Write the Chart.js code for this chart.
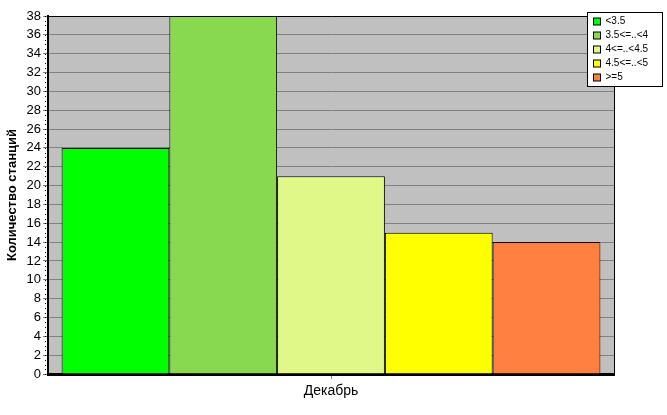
<!DOCTYPE html>
<html>
<head>
<meta charset="utf-8">
<script src="https://cdn.jsdelivr.net/npm/chart.js@4"></script>
<style>
  html, body { margin: 0; padding: 0; background: #fff; }
  #wrap { width: 667px; height: 415px; }
</style>
</head>
<body>
<div id="wrap"><canvas id="c" width="667" height="415"></canvas></div>
<script>
// данные
const months = ['Декабрь'];
const groups = ['<3.5', '3.5<=..<4', '4<=..<4.5', '4.5<=..<5', '>=5'];
const counts = [24, 38, 21, 15, 14];
const colors = ['#00ff00', '#88d850', '#e0f888', '#ffff00', '#ff8040'];
const yTicks = [0, 2, 4, 6, 8, 10, 12, 14, 16, 18, 20, 22, 24, 26, 28, 30, 32, 34, 36, 38];

// фон области построения и рамка
const plotBg = {
  id: 'plotBg',
  beforeDraw(chart) {
    const { ctx, chartArea: a } = chart;
    ctx.save();
    ctx.fillStyle = '#c0c0c0';
    ctx.fillRect(a.left, a.top, a.right - a.left, a.bottom - a.top);
    ctx.restore();
  },
  afterDraw(chart) {
    const { ctx, chartArea: a } = chart;
    const y = chart.scales.y;
    ctx.save();
    ctx.strokeStyle = '#000';
    ctx.lineWidth = 1;
    ctx.beginPath();
    ctx.moveTo(a.left, a.top + 0.5);
    ctx.lineTo(a.right + 0.5, a.top + 0.5);
    ctx.lineTo(a.right + 0.5, a.bottom);
    ctx.stroke();
    // мелкие деления на оси Y
    ctx.fillStyle = '#000';
    for (let v = 0; v <= 38; v += 0.5) {
      const py = Math.round(y.getPixelForValue(v));
      ctx.fillRect(a.left - 3, py, 1, 1);
    }
    ctx.restore();
  }
};

// легенда поверх графика
const boxLegend = {
  id: 'boxLegend',
  afterDraw(chart) {
    const { ctx } = chart;
    const x = 587.5, y = 12.5, w = 75, h = 74;
    ctx.save();
    ctx.fillStyle = '#fff';
    ctx.fillRect(x, y, w, h);
    ctx.strokeStyle = '#000';
    ctx.lineWidth = 1;
    ctx.strokeRect(x, y, w, h);
    ctx.font = '10px "Liberation Sans", Arial, sans-serif';
    ctx.textBaseline = 'middle';
    chart.data.datasets.forEach((ds, i) => {
      const cy = y + 9 + i * 14;
      ctx.fillStyle = ds.backgroundColor;
      ctx.fillRect(x + 6, cy - 3.5, 7, 7);
      ctx.strokeRect(x + 6, cy - 3.5, 7, 7);
      ctx.fillStyle = '#000';
      ctx.fillText(ds.label, x + 18, cy);
    });
    ctx.restore();
  }
};

new Chart(document.getElementById('c'), {
  type: 'bar',
  data: {
    labels: months,
    datasets: groups.map((g, i) => ({
      label: g,
      data: [counts[i]],
      backgroundColor: colors[i],
      borderColor: '#000',
      borderWidth: 1,
      categoryPercentage: 0.952,
      barPercentage: 1.0
    }))
  },
  options: {
    responsive: false,
    animation: false,
    layout: { padding: { left: 0, right: 53, top: 16, bottom: 0 } },
    plugins: {
      legend: { display: false },
      tooltip: { enabled: false }
    },
    scales: {
      x: {
        grid: { offset: false, drawOnChartArea: false, color: '#808080', tickLength: 5 },
        border: { color: '#000', width: 3 },
        ticks: { color: '#000', font: { family: '"Liberation Sans", Arial, sans-serif', size: 14 }, padding: 4 },
        afterFit(s) { s.height = 41; }
      },
      y: {
        min: 0,
        max: 38,
        afterBuildTicks(s) { s.ticks = yTicks.map(v => ({ value: v })); },
        grid: { color: '#808080', tickLength: 5 },
        border: { color: '#000', width: 2 },
        ticks: { color: '#000', font: { family: '"Liberation Sans", Arial, sans-serif', size: 13 }, padding: 2 },
        title: {
          display: true,
          text: 'Количество станций',
          color: '#000',
          font: { family: '"Liberation Sans", Arial, sans-serif', size: 13, weight: 'bold' },
          padding: { top: 5, bottom: 0 }
        },
        afterFit(s) { s.width = 48; }
      }
    }
  },
  plugins: [plotBg, boxLegend]
});
</script>
</body>
</html>
